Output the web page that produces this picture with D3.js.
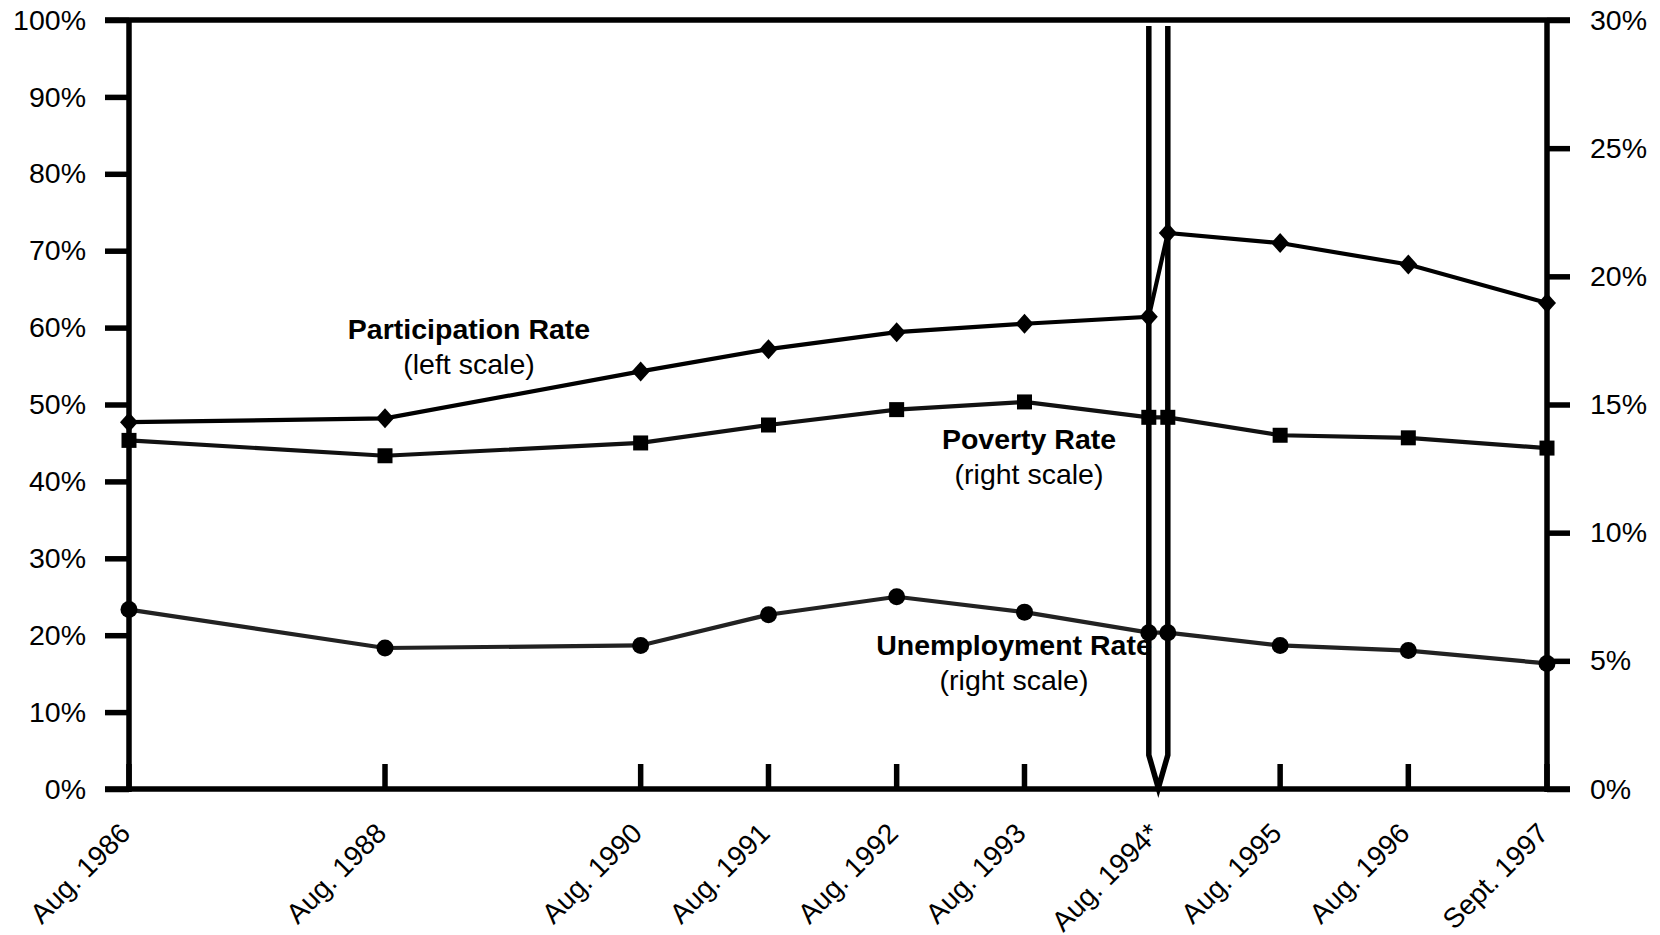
<!DOCTYPE html>
<html>
<head>
<meta charset="utf-8">
<script src="https://cdn.jsdelivr.net/npm/d3@7"></script>
<style>
  body { margin: 0; background: #fff; }
  svg { display: block; font-family: "Liberation Sans", Arial, sans-serif; }
</style>
</head>
<body>
<div id="canvas"></div>
<script>
// survey dates (tick positions) and their labels
var tickDates = ["1986-08", "1988-08", "1990-08", "1991-08", "1992-08", "1993-08", "1994-08", "1995-08", "1996-08", "1997-09"];
var tickLabels = ["Aug. 1986", "Aug. 1988", "Aug. 1990", "Aug. 1991", "Aug. 1992", "Aug. 1993", "Aug. 1994*", "Aug. 1995", "Aug. 1996", "Sept. 1997"];

// data points: 1994 appears twice (old survey / redesigned survey)
var pointDates = ["1986-08", "1988-08", "1990-08", "1991-08", "1992-08", "1993-08", "1994-08", "1994-08", "1995-08", "1996-08", "1997-09"];
var breakSide  = [0, 0, 0, 0, 0, 0, -1, 1, 0, 0, 0];

var participation = [47.7, 48.2, 54.3, 57.2, 59.4, 60.5, 61.4, 72.3, 71.0, 68.2, 63.2]; // left scale
var poverty       = [13.6, 13.0, 13.5, 14.2, 14.8, 15.1, 14.5, 14.5, 13.8, 13.7, 13.3]; // right scale
var unemployment  = [7.0, 5.5, 5.6, 6.8, 7.5, 6.9, 6.1, 6.1, 5.6, 5.4, 4.9];             // right scale

var leftTicks  = [0, 10, 20, 30, 40, 50, 60, 70, 80, 90, 100];
var rightTicks = [0, 5, 10, 15, 20, 25, 30];

var W = 1660, H = 935;
var plotL = 129, plotR = 1547, plotT = 20, plotB = 789;
var parse = d3.timeParse("%Y-%m");

var x = d3.scaleTime().domain([parse(tickDates[0]), parse(tickDates[tickDates.length - 1])]).range([plotL, plotR]);
var yL = d3.scaleLinear().domain([0, 100]).range([plotB, plotT]);
var yR = d3.scaleLinear().domain([0, 30]).range([plotB, plotT]);

var breakX = x(parse("1994-08")) + 6;
var breakHalf = 9.5;

function px(i) {
  if (breakSide[i] !== 0) return breakX + breakSide[i] * breakHalf;
  return x(parse(pointDates[i]));
}

var svg = d3.select("#canvas").append("svg").attr("width", W).attr("height", H);

// left axis ticks
var gl = svg.append("g").attr("transform", "translate(" + plotL + ",0)")
  .call(d3.axisLeft(yL).tickValues(leftTicks).tickSize(24).tickPadding(19).tickFormat(function (d) { return d + "%"; }));
gl.select(".domain").remove();
gl.selectAll("line").attr("stroke", "#000").attr("stroke-width", 5.5);
gl.selectAll("text").attr("fill", "#000").style("font-size", "28.5px");

// right axis ticks
var gr = svg.append("g").attr("transform", "translate(" + plotR + ",0)")
  .call(d3.axisRight(yR).tickValues(rightTicks).tickSize(23).tickPadding(20).tickFormat(function (d) { return d + "%"; }));
gr.select(".domain").remove();
gr.selectAll("line").attr("stroke", "#000").attr("stroke-width", 5.5);
gr.selectAll("text").attr("fill", "#000").style("font-size", "28.5px");

// frame lines
var frame = svg.append("g").attr("stroke", "#000").attr("stroke-width", 5.5);
frame.append("line").attr("x1", plotL - 24).attr("x2", plotR + 23).attr("y1", plotT).attr("y2", plotT);
frame.append("line").attr("x1", plotL - 24).attr("x2", plotR + 23).attr("y1", plotB).attr("y2", plotB);
frame.append("line").attr("x1", plotL).attr("x2", plotL).attr("y1", plotT).attr("y2", plotB + 3);
frame.append("line").attr("x1", plotR).attr("x2", plotR).attr("y1", plotT).attr("y2", plotB + 3);

// x ticks (inward), no tick at the 1994 break
svg.append("g").selectAll("line")
  .data(tickDates.filter(function (d) { return d !== "1994-08"; }))
  .enter().append("line")
  .attr("x1", function (d) { return x(parse(d)); })
  .attr("x2", function (d) { return x(parse(d)); })
  .attr("y1", plotB)
  .attr("y2", plotB - 25)
  .attr("stroke", "#000").attr("stroke-width", 5.5);

// x labels rotated
svg.append("g").selectAll("text")
  .data(tickDates)
  .enter().append("text")
  .attr("transform", function (d) {
    var xx = d === "1994-08" ? breakX : x(parse(d));
    return "translate(" + (xx + 3) + "," + (plotB + 46) + ") rotate(-45)";
  })
  .attr("text-anchor", "end")
  .style("font-size", "28px")
  .attr("fill", "#000")
  .text(function (d, i) { return tickLabels[i]; });

// series break (survey redesign)
svg.append("path")
  .attr("d", "M" + (breakX - breakHalf) + "," + (plotT + 6) + "V" + (plotB - 34) +
             "L" + breakX + "," + (plotB - 1) +
             "L" + (breakX + breakHalf) + "," + (plotB - 34) + "V" + (plotT + 6))
  .attr("fill", "none").attr("stroke", "#000").attr("stroke-width", 5.5);

var idx = d3.range(pointDates.length);

function drawSeries(values, scale, color, marker) {
  var line = d3.line().x(function (i) { return px(i); }).y(function (i) { return scale(values[i]); });
  var g = svg.append("g");
  g.append("path").attr("d", line(idx)).attr("fill", "none").attr("stroke", color).attr("stroke-width", 4.2);
  g.selectAll("path.m").data(idx).enter().append("path").attr("class", "m")
    .attr("transform", function (i) { return "translate(" + px(i) + "," + scale(values[i]) + ")"; })
    .attr("d", marker)
    .attr("fill", "#000");
}

drawSeries(participation, yL, "#000", "M0,-10L9,0L0,10L-9,0Z");
drawSeries(poverty, yR, "#111", "M-7.5,-7.5H7.5V7.5H-7.5Z");
drawSeries(unemployment, yR, "#222", d3.symbol().type(d3.symbolCircle).size(Math.PI * 8.5 * 8.5)());

// series labels
function label(cx, y1, t1, t2) {
  svg.append("text").attr("x", cx).attr("y", y1).attr("text-anchor", "middle")
    .style("font-size", "28.5px").style("font-weight", "bold").text(t1);
  svg.append("text").attr("x", cx).attr("y", y1 + 35).attr("text-anchor", "middle")
    .style("font-size", "28.5px").text(t2);
}
label(469, 339, "Participation Rate", "(left scale)");
label(1029, 449, "Poverty Rate", "(right scale)");
label(1014, 655, "Unemployment Rate", "(right scale)");
</script>
</body>
</html>
